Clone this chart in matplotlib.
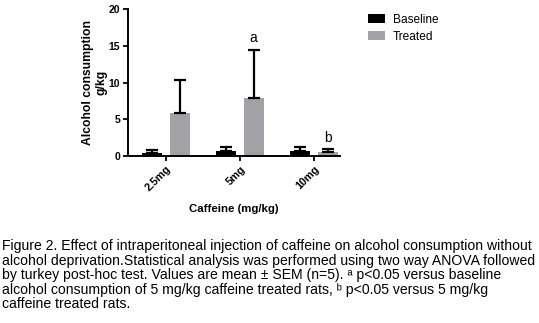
import numpy as np
import matplotlib.pyplot as plt

plt.rcParams['font.family'] = ['Liberation Sans', 'DejaVu Sans']

doses = ['2.5mg', '5mg', '10mg']
baseline = [0.4, 0.7, 0.7]
baseline_sem = [0.4, 0.5, 0.55]
treated = [5.9, 7.95, 0.5]
treated_sem = [4.4, 6.55, 0.4]
letters = ['', 'a', 'b']

caption = (
    "Figure 2. Effect of intraperitoneal injection of caffeine on alcohol consumption without\n"
    "alcohol deprivation.Statistical analysis was performed using two way ANOVA followed\n"
    "by turkey post-hoc test. Values are mean \u00b1 SEM (n=5). \u1d43 p<0.05 versus baseline\n"
    "alcohol consumption of 5 mg/kg caffeine treated rats, \u1d47 p<0.05 versus 5 mg/kg\n"
    "caffeine treated rats."
)

fig = plt.figure(figsize=(5.39, 3.23), dpi=100)
ax = fig.add_axes([0.2375, 0.517, 0.3935, 0.454])

x = np.arange(len(doses))
w = 0.27
off = 0.185
err_kw = dict(ecolor='black', elinewidth=1.6, capsize=4.5, capthick=1.6)
ax.bar(x - off, baseline, w, color='black', label='Baseline',
       yerr=[np.zeros(3), baseline_sem], error_kw=err_kw, zorder=2)
ax.bar(x + off, treated, w, color='#a2a2a6', label='Treated',
       yerr=[np.zeros(3), treated_sem], error_kw=err_kw, zorder=2)

for i, lab in enumerate(letters):
    if lab:
        ax.text(x[i] + off, treated[i] + treated_sem[i] + 0.6, lab,
                ha='center', va='bottom', fontsize=10)

ax.set_xlim(-0.51, 2.35)
ax.set_ylim(0, 20)
ax.set_yticks([0, 5, 10, 15, 20])
ax.set_xticks(x)
ax.set_xticklabels(doses, rotation=45, ha='right', rotation_mode='anchor',
                   fontweight='bold', fontsize=7.8)
for t in ax.get_yticklabels():
    t.set_fontweight('bold')
    t.set_fontsize(7.5)
ax.tick_params(axis='both', width=1.3, length=3.5, direction='out', pad=2)
for s in ['top', 'right']:
    ax.spines[s].set_visible(False)
for s in ['left', 'bottom']:
    ax.spines[s].set_linewidth(1.4)
ax.spines['bottom'].set_zorder(3)

ax.set_ylabel('Alcohol consumption\ng/kg', fontweight='bold', fontsize=8.7,
              linespacing=1.15, labelpad=1)
ax.set_xlabel('Caffeine (mg/kg)', fontweight='bold', fontsize=8.2, labelpad=8)

ax.legend(loc='upper left', bbox_to_anchor=(0.662, 0.99),
          bbox_transform=fig.transFigure, frameon=False, fontsize=8.6,
          handlelength=1.5, handleheight=0.75, handletextpad=0.6, labelspacing=0.4)

fig.text(0.004, 1 - 239 / 323, caption, ha='left', va='top',
         fontsize=10.1, linespacing=1.05)

fig.savefig('out.png', dpi=100)
